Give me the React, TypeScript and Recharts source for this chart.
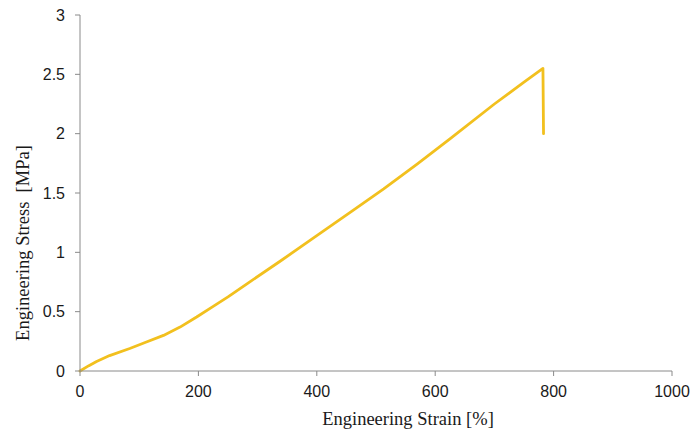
import { LineChart, Line, XAxis, YAxis } from 'recharts'

const strain = [0, 15, 28, 50, 84, 110, 141, 169, 197, 225, 250, 282, 338, 400, 460, 513, 570, 626, 700, 750, 782, 783]
const stress = [0, 0.045, 0.08, 0.13, 0.19, 0.24, 0.3, 0.37, 0.455, 0.545, 0.625, 0.735, 0.925, 1.14, 1.35, 1.535, 1.745, 1.96, 2.25, 2.435, 2.55, 2.0]

const xTicks = [0, 200, 400, 600, 800, 1000]
const yTicks = [0, 0.5, 1, 1.5, 2, 2.5, 3]

const data = strain.map((s, i) => ({ strain: s, stress: stress[i] }))

const AXIS = '#8a8a8a'
const TICK_FONT = { fill: '#1a1a1a', fontSize: 16, fontFamily: '"Liberation Sans", Arial, sans-serif' }
const TITLE_FONT = '"Liberation Serif", "DejaVu Serif", serif'

export default function App() {
  return (
    <div style={{ position: 'absolute', left: 0, top: 0, background: '#fff' }}>
      <LineChart width={694} height={430} data={data} margin={{ top: 15, right: 22, left: 0, bottom: 0 }}>
        <XAxis
          dataKey="strain"
          type="number"
          domain={[0, 1000]}
          ticks={xTicks}
          stroke={AXIS}
          tickSize={5}
          tickMargin={10}
          height={59}
          tick={TICK_FONT}
          label={({ viewBox }: any) => (
            <text
              x={viewBox.x + viewBox.width / 2 + 32}
              y={viewBox.y + 54}
              textAnchor="middle"
              fill="#1a1a1a"
              fontSize={18.5}
              fontFamily={TITLE_FONT}
            >
              Engineering Strain [%]
            </text>
          )}
        />
        <YAxis
          type="number"
          domain={[0, 3]}
          ticks={yTicks}
          stroke={AXIS}
          tickSize={5}
          tickMargin={10}
          width={80}
          tick={TICK_FONT}
          label={({ viewBox }: any) => (
            <text
              transform={`translate(${viewBox.x + 23},${viewBox.y + viewBox.height / 2 + 50}) rotate(-90)`}
              textAnchor="middle"
              dominantBaseline="central"
              fill="#1a1a1a"
              fontSize={18.5}
              fontFamily={TITLE_FONT}
              style={{ whiteSpace: 'pre' }}
            >
              {'Engineering Stress  [MPa]'}
            </text>
          )}
        />
        <Line
          type="linear"
          dataKey="stress"
          stroke="#f2c01e"
          strokeWidth={2.8}
          strokeLinecap="round"
          strokeLinejoin="round"
          dot={false}
          isAnimationActive={false}
        />
      </LineChart>
    </div>
  )
}
